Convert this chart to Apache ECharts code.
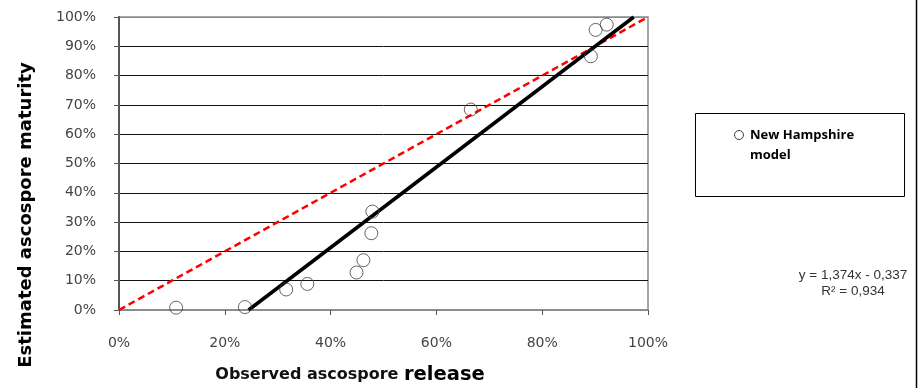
<!DOCTYPE html>
<html>
<head>
<meta charset="utf-8">
<title>Estimated vs observed ascospore</title>
<script src="https://cdn.jsdelivr.net/npm/echarts@6/dist/echarts.min.js"></script>
<style>
  html, body { margin: 0; padding: 0; background: #fff; }
  #main { width: 922px; height: 388px; }
</style>
</head>
<body>
<div id="main"></div>
<script>
// 观测值 / 估计值（%）
var observed = [10.8, 23.8, 31.6, 35.6, 44.9, 46.2, 47.7, 47.9, 66.5, 89.2, 90.1, 92.2];
var estimated = [0.8, 1.0, 7.0, 8.9, 12.8, 17.0, 26.2, 33.6, 68.4, 86.6, 95.6, 97.4];
// 回归线两端 (y = 1,374x - 0,337)
var trendX = [24.5, 97.3];
var trendY = [0, 100];
// 1:1 线
var lineX = [0, 100];
var lineY = [0, 100];
var xTicks = [0, 20, 40, 60, 80, 100];
var yTicks = [0, 10, 20, 30, 40, 50, 60, 70, 80, 90, 100];

function pairs (xs, ys) {
  return xs.map(function (v, i) { return [v, ys[i]]; });
}

var labelFont = '"DejaVu Sans", Arial, sans-serif';
var chart = echarts.init(document.getElementById('main'));
var option = {
  animation: false,
  // 绘图区
  grid: {
    left: 119,
    top: 17,
    right: 274,
    bottom: 78,
    show: true,
    borderColor: '#8a8a8a',
    borderWidth: 1.5,
  },
  xAxis: {
    type: 'value',
    min: 0,
    max: 100,
    interval: xTicks[1] - xTicks[0],
    splitLine: { show: false },
    axisLine: { lineStyle: { color: '#8a8a8a', width: 1.5 } },
    axisTick: { show: true, inside: false, length: 5, lineStyle: { color: '#555' } },
    axisLabel: {
      margin: 26,
      color: '#444',
      fontFamily: labelFont,
      fontSize: 14,
      formatter: '{value}%',
    },
  },
  yAxis: {
    type: 'value',
    min: 0,
    max: 100,
    interval: yTicks[1] - yTicks[0],
    axisLine: { show: true, lineStyle: { color: '#555', width: 2 } },
    axisTick: { show: true, inside: false, length: 5, lineStyle: { color: '#555' } },
    splitLine: {
      lineStyle: {
        color: ['#8a8a8a', '#111', '#111', '#111', '#111', '#111', '#111', '#111', '#111', '#111', '#8a8a8a'],
        width: 1,
      },
    },
    axisLabel: {
      margin: 23,
      color: '#444',
      fontFamily: labelFont,
      fontSize: 14,
      formatter: '{value}%',
    },
  },
  series: [
    {
      name: '1:1',
      type: 'line',
      data: pairs(lineX, lineY),
      symbol: 'none',
      lineStyle: { color: '#ff0000', width: 2.5, type: [7, 4] },
      z: 3,
    },
    {
      name: 'trend',
      type: 'line',
      data: pairs(trendX, trendY),
      symbol: 'none',
      lineStyle: { color: '#000', width: 3.5 },
      z: 4,
    },
    {
      name: 'New Hampshire model',
      type: 'scatter',
      data: pairs(observed, estimated),
      symbol: 'circle',
      symbolSize: 13,
      itemStyle: { color: 'rgba(255,255,255,0)', borderColor: '#404040', borderWidth: 1 },
      z: 5,
    },
  ],
  graphic: [
    // y轴标题
    {
      type: 'text',
      x: 26,
      y: 215,
      rotation: Math.PI / 2,
      style: {
        text: 'Estimated ascospore maturity',
        font: 'bold 18px ' + labelFont,
        fill: '#000',
        align: 'center',
        verticalAlign: 'middle',
      },
    },
    // x轴标题
    {
      type: 'text',
      x: 350,
      y: 375,
      style: {
        text: '{a|Observed ascospore }{b|release}',
        align: 'center',
        verticalAlign: 'middle',
        rich: {
          a: { font: 'bold 16px ' + labelFont, fill: '#111' },
          b: { font: 'bold 19.5px ' + labelFont, fill: '#000' },
        },
      },
    },
    // 图例框
    {
      type: 'rect',
      shape: { x: 695.5, y: 113.5, width: 209, height: 83 },
      style: { fill: '#fff', stroke: '#000', lineWidth: 1 },
    },
    {
      type: 'circle',
      shape: { cx: 739, cy: 135, r: 4.5 },
      style: { fill: '#fff', stroke: '#404040', lineWidth: 1 },
    },
    {
      type: 'text',
      x: 750,
      y: 125,
      style: {
        text: 'New Hampshire\nmodel',
        font: 'bold 13px "Open Sans", sans-serif',
        lineHeight: 20,
        fill: '#000',
      },
    },
    // 回归方程
    {
      type: 'text',
      x: 853,
      y: 267,
      style: {
        text: 'y = 1,374x - 0,337\nR² = 0,934',
        font: '13.5px Liberation Sans, Arial, sans-serif',
        lineHeight: 16,
        fill: '#333',
        align: 'center',
      },
    },
    // 右侧边框
    {
      type: 'line',
      shape: { x1: 916.5, y1: 0, x2: 916.5, y2: 388 },
      style: { stroke: '#000', lineWidth: 1.5 },
    },
  ],
};
chart.setOption(option);
</script>
</body>
</html>
